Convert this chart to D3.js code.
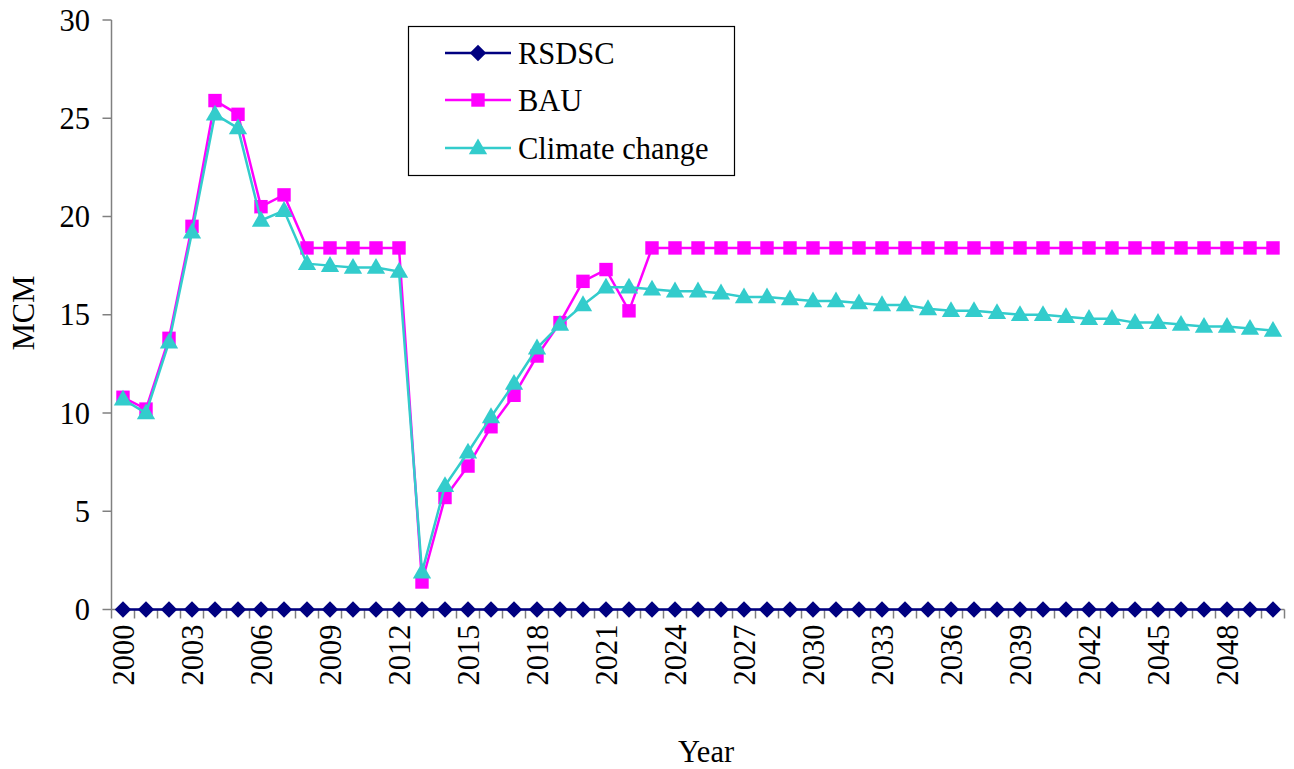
<!DOCTYPE html>
<html>
<head>
<meta charset="utf-8">
<script src="https://cdn.jsdelivr.net/npm/d3@7"></script>
<style>
  html, body { margin: 0; padding: 0; background: #fff; }
  svg text { font-family: "Liberation Serif", "Times New Roman", serif; fill: #000; }
</style>
</head>
<body>
<svg id="chart" width="1294" height="769"></svg>
<script>
const years = d3.range(2000, 2051);
const tickYears = d3.range(2000, 2051, 3);
const yTicks = [0, 5, 10, 15, 20, 25, 30];
const seriesNames = ["RSDSC", "BAU", "Climate change"];

const rsdsc = years.map(() => 0);
const bau = [10.8, 10.2, 13.8, 19.5, 25.9, 25.2, 20.5, 21.1, 18.4, 18.4,
             18.4, 18.4, 18.4, 1.4, 5.7, 7.3, 9.3, 10.9, 12.9, 14.6,
             16.7, 17.3, 15.2, 18.4, 18.4, 18.4, 18.4, 18.4, 18.4, 18.4,
             18.4, 18.4, 18.4, 18.4, 18.4, 18.4, 18.4, 18.4, 18.4, 18.4,
             18.4, 18.4, 18.4, 18.4, 18.4, 18.4, 18.4, 18.4, 18.4, 18.4, 18.4];
const climate = [10.7, 10.0, 13.6, 19.2, 25.2, 24.5, 19.8, 20.3, 17.6, 17.5,
                 17.4, 17.4, 17.2, 1.9, 6.3, 8.0, 9.8, 11.5, 13.3, 14.5,
                 15.5, 16.4, 16.4, 16.3, 16.2, 16.2, 16.1, 15.9, 15.9, 15.8,
                 15.7, 15.7, 15.6, 15.5, 15.5, 15.3, 15.2, 15.2, 15.1, 15.0,
                 15.0, 14.9, 14.8, 14.8, 14.6, 14.6, 14.5, 14.4, 14.4, 14.3, 14.2];

const svg = d3.select("#chart");
const pL = 111.5, pR = 1284.5, pT = 20, pB = 609.5;
const FS = 30.5;

const x = d3.scaleBand().domain(years).range([pL, pR]).paddingInner(0).paddingOuter(0);
const y = d3.scaleLinear().domain([0, 30]).range([pB, pT]);
const cx = d => x(d) + x.bandwidth() / 2;

const axisColor = "#808080";

// Y axis
const yAxis = svg.append("g");
yAxis.append("line").attr("x1", pL).attr("x2", pL).attr("y1", pT).attr("y2", pB)
  .attr("stroke", axisColor).attr("stroke-width", 1.5);
yAxis.selectAll("line.tick").data(yTicks).enter().append("line")
  .attr("x1", pL - 9).attr("x2", pL).attr("y1", d => y(d)).attr("y2", d => y(d))
  .attr("stroke", axisColor).attr("stroke-width", 1.5);
yAxis.selectAll("text").data(yTicks).enter().append("text")
  .attr("x", 90).attr("y", d => y(d)).attr("dy", "0.35em")
  .attr("text-anchor", "end").attr("font-size", FS).text(d => d);

// X axis
const xAxis = svg.append("g");
xAxis.append("line").attr("x1", pL).attr("x2", pR).attr("y1", pB).attr("y2", pB)
  .attr("stroke", axisColor).attr("stroke-width", 1.5);
const bounds = years.map(d => x(d)).concat([pR]);
xAxis.selectAll("line.tick").data(bounds).enter().append("line")
  .attr("x1", d => d).attr("x2", d => d).attr("y1", pB).attr("y2", pB + 9)
  .attr("stroke", axisColor).attr("stroke-width", 1.5);
xAxis.selectAll("text").data(tickYears).enter().append("text")
  .attr("transform", d => `translate(${cx(d) + 11},${pB + 15}) rotate(-90)`)
  .attr("text-anchor", "end").attr("font-size", FS).text(d => d);

// Axis titles
svg.append("text").attr("transform", "translate(34,313) rotate(-90)")
  .attr("text-anchor", "middle").attr("font-size", FS).text("MCM");
svg.append("text").attr("x", 706).attr("y", 762)
  .attr("text-anchor", "middle").attr("font-size", FS).text("Year");

// Series
const series = [
  { name: seriesNames[0], values: rsdsc, color: "#000080", shape: d3.symbolSquare, size: 135, rot: 45, dy: 0 },
  { name: seriesNames[1], values: bau, color: "#FF00FF", shape: d3.symbolSquare, size: 180, rot: 0, dy: 0 },
  { name: seriesNames[2], values: climate, color: "#33CCCC", shape: d3.symbolTriangle, size: 145, rot: 0, dy: 1 }
];

const line = d3.line().x((d, i) => cx(years[i])).y(d => y(d));

series.forEach(s => {
  const g = svg.append("g");
  g.append("path").datum(s.values).attr("d", line)
    .attr("fill", "none").attr("stroke", s.color).attr("stroke-width", 2.5);
  const sym = d3.symbol().type(s.shape).size(s.size);
  g.selectAll("path.m").data(s.values).enter().append("path")
    .attr("class", "m")
    .attr("d", sym)
    .attr("transform", (d, i) => `translate(${cx(years[i])},${y(d) + s.dy}) rotate(${s.rot})`)
    .attr("fill", s.color);
});

// Legend
const lg = svg.append("g");
lg.append("rect").attr("x", 408.5).attr("y", 26.5).attr("width", 326).attr("height", 149)
  .attr("fill", "#fff").attr("stroke", "#000").attr("stroke-width", 1.2);
const rowsY = [53, 100, 148];
series.forEach((s, i) => {
  const yy = rowsY[i];
  lg.append("line").attr("x1", 445).attr("x2", 511).attr("y1", yy).attr("y2", yy)
    .attr("stroke", s.color).attr("stroke-width", 2.5);
  lg.append("path").attr("d", d3.symbol().type(s.shape).size(s.size)())
    .attr("transform", `translate(478,${yy + s.dy}) rotate(${s.rot})`).attr("fill", s.color);
  lg.append("text").attr("x", 518).attr("y", yy).attr("dy", "0.35em")
    .attr("font-size", FS).text(s.name);
});
</script>
</body>
</html>
